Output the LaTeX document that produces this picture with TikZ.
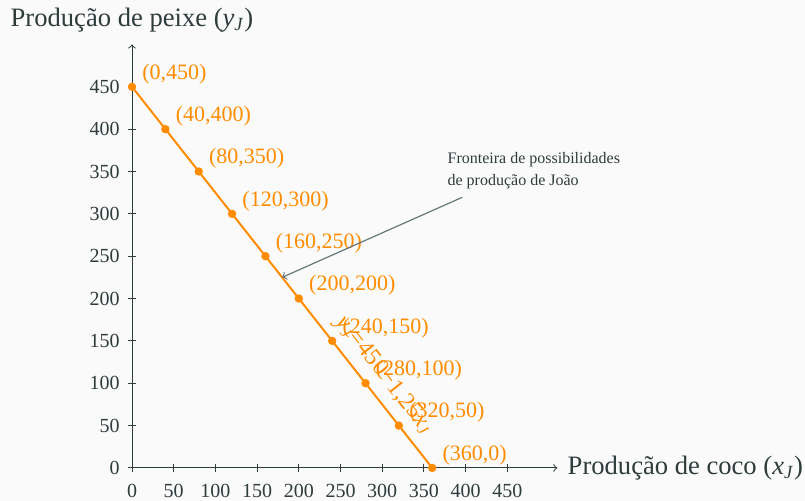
\documentclass[tikz,border=0pt]{standalone}
\usepackage{fontspec}
\setmainfont{Liberation Serif}
\usetikzlibrary{arrows}

\definecolor{frontcol}{RGB}{255,140,0}
\definecolor{axiscol}{HTML}{2F3C3C}
\definecolor{notecol}{HTML}{667777}
\definecolor{bgcol}{HTML}{FAFAFA}

\begin{document}
\begin{tikzpicture}[x=0.417pt, y=0.4235pt]
\tikzstyle{axis} = [draw=axiscol, line width=0.5pt, ->]
\tikzstyle{tick} = [draw=axiscol, line width=0.5pt]
\tikzstyle{ticklabel} = [text=axiscol, font=\fontsize{10}{12}\selectfont, inner sep=0]
\tikzstyle{axislabel} = [text=axiscol, font=\fontsize{13.3}{16}\selectfont, inner sep=0]
\tikzstyle{dot} = [circle, fill=frontcol, inner sep=0, minimum size=4.2pt]
\tikzstyle{ptlabel} = [text=frontcol, font=\fontsize{11}{13}\selectfont, inner sep=0, anchor=west, xshift=5pt, yshift=6.5pt]
\tikzstyle{frontier} = [draw=frontcol, line width=1pt]
\tikzstyle{notetext} = [text=axiscol, font=\fontsize{8}{11}\selectfont, inner sep=0, align=left]
\tikzstyle{arrow} = [draw=notecol, line width=0.6pt, ->]

\fill [bgcol] (-158.3,-39) rectangle (807,552.5);
\useasboundingbox (-158.3,-39) rectangle (807,552.5);

% axes
\coordinate (o) at (0,0);
\coordinate (xend) at (510,0);
\coordinate (yend) at (0,500);
\draw [axis] (o) -- (xend);
\draw [axis] (o) -- (yend);
\node (xlab) [axislabel, anchor=west, xshift=5pt] at (xend) {Produção de coco (\textit{x}\textsubscript{\textit{J}})};
\node (ylab) [axislabel] at (0,529) {Produção de peixe (\textit{y}\textsubscript{\textit{J}})};

\foreach \v in {0,50,...,450} {
  \draw [tick] (\v,0) ++(0,-2pt) -- ++(0,4pt);
  \draw [tick] (0,\v) ++(-2pt,0) -- ++(4pt,0);
  \node (xt\v) [ticklabel, anchor=north, yshift=-8pt] at (\v,0) {\v};
  \node (yt\v) [ticklabel, anchor=east, xshift=-6pt] at (0,\v) {\v};
}

% frontier
\foreach \i in {0,...,9} {
  \pgfmathtruncatemacro{\px}{40*\i}
  \pgfmathtruncatemacro{\py}{450-50*\i}
  \node (p\i) [dot] at (\px,\py) {};
  \node (l\i) [ptlabel] at (p\i) {(\px,\py)};
}
\draw [frontier] (p0.center) -- node (eq) [pos=0.79, sloped, above, inner sep=4pt, text=frontcol, font=\fontsize{12}{14}\selectfont] {\textit{y}\textsubscript{\textit{J}}=450−1,25\textit{x}\textsubscript{\textit{J}}} (p9.center);

% note
\node (note) [notetext, anchor=west] at (378,351) {Fronteira de possibilidades\\de produção de João};
\coordinate (tip) at (180,225);
\draw [arrow] ([xshift=7.5pt, yshift=-4pt]note.south west) -- (tip);

\end{tikzpicture}
\end{document}
